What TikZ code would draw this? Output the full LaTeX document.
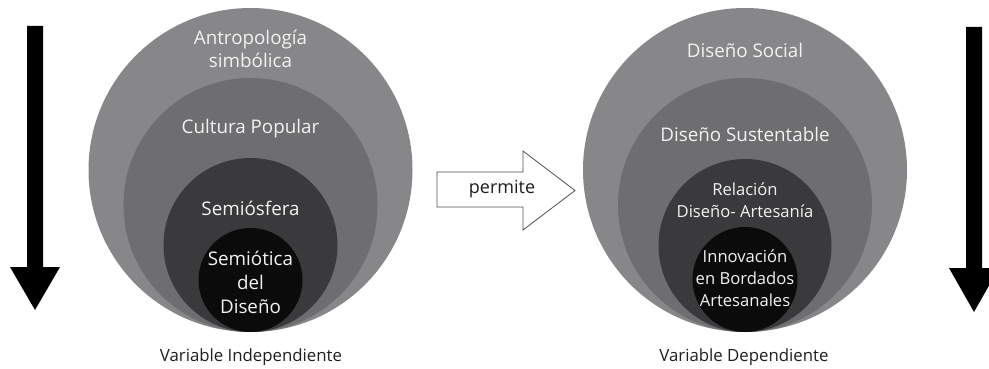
\documentclass[tikz,border=0pt]{standalone}
\usepackage{fontspec}
\setmainfont{Open Sans}
\begin{document}
\begin{tikzpicture}[x=1pt,y=-1pt,
  ring/.style={circle,inner sep=0pt,draw=none,minimum size=#1},
  lbl/.style={text=labelwhite,align=center,inner sep=0pt,font=\fontsize{18.8}{23}\selectfont},
  lblsmall/.style={text=labelwhite,align=center,inner sep=0pt,font=\fontsize{16.6}{22}\selectfont},
  caption/.style={text=captiongray,inner sep=0pt,font=\fontsize{16.8}{20}\selectfont},
  bigarrow/.style={fill=black,draw=none},
]
\definecolor{ringA}{HTML}{878789}
\definecolor{ringB}{HTML}{6E6E70}
\definecolor{ringC}{HTML}{3A3A3C}
\definecolor{ringD}{HTML}{0B0B0B}
\definecolor{labelwhite}{HTML}{F2F2F2}
\definecolor{captiongray}{HTML}{1E1E1E}
\definecolor{outlinegray}{HTML}{505050}

\useasboundingbox (0,0) rectangle (989,369);
\clip (0,0) rectangle (989,369);

% left group: nested circles tangent at the bottom
\node[ring=324pt,fill=ringA] (L1) at (250.5,170) {};
\node[ring=254pt,fill=ringB] (L2) at (250.5,205) {};
\node[ring=174pt,fill=ringC] (L3) at (250.5,245) {};
\node[ring=104pt,fill=ringD] (L4) at (250.5,280) {};

\node[lbl] (tA) at (250.5,49) {Antropología\\simbólica};
\node[lbl] (tB) at (250.5,129) {Cultura Popular};
\node[lbl] (tC) at (250.5,208) {Semiósfera};
\node[lbl,font=\fontsize{18.8}{24}\selectfont] (tD) at (250.5,282) {Semiótica\\del\\Diseño};

% right group
\node[ring=324pt,fill=ringA] (R1) at (745,170) {};
\node[ring=254pt,fill=ringB] (R2) at (745,205) {};
\node[ring=173pt,fill=ringC] (R3) at (745,245.5) {};
\node[ring=105pt,fill=ringD] (R4) at (745,279.5) {};

\node[lbl] (uA) at (745,50) {Diseño Social};
\node[lbl] (uB) at (745,134) {Diseño Sustentable};
\node[lblsmall] (uC) at (745,200) {Relación\\Diseño- Artesanía};
\node[lblsmall] (uD) at (745,278) {Innovación\\en Bordados\\Artesanales};

% captions
\node[caption] (capL) at (251,357) {Variable Independiente};
\node[caption] (capR) at (744,357) {Variable Dependiente};

% outlined block arrow between the groups
\draw[outlinegray,line width=0.8pt,fill=white,line join=miter]
  (437,172) -- (523,172) -- (523,151) -- (575,190.5) -- (523,230)
  -- (523,207) -- (437,207) -- cycle;
\node[text=captiongray,inner sep=0pt,font=\fontsize{18}{20}\selectfont] (perm) at (502,189) {permite};

% solid downward arrows at both sides
\fill[bigarrow] (27,26) -- (43,26) -- (43,267) -- (60,267) -- (35,310)
  -- (10,267) -- (27,267) -- cycle;
\fill[bigarrow] (966,27) -- (982,27) -- (982,268) -- (999,268) -- (974,312)
  -- (949,268) -- (966,268) -- cycle;
\end{tikzpicture}
\end{document}
